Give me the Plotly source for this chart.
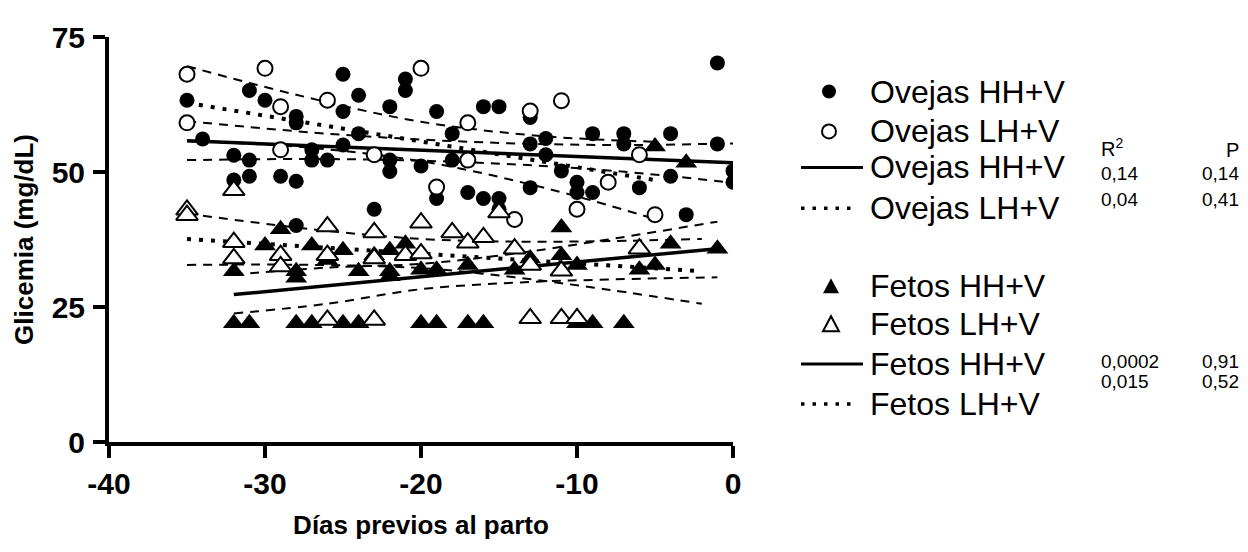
import plotly.graph_objects as go

# ---------------- data ----------------
ov_hh_x = [-35, -34, -32, -32, -31, -31, -31, -30, -29, -28, -28, -28, -28, -27, -27, -26,
           -25, -25, -25, -24, -24, -23, -22, -22, -22, -21, -21, -20, -19, -19, -18, -18,
           -17, -16, -16, -15, -15, -15, -13, -13, -13, -12, -12, -11, -10, -10, -9, -9,
           -7, -7, -6, -4, -4, -3, -1, -1, 0, 0]
ov_hh_y = [63.3, 56.1, 53.1, 48.5, 65.1, 52.2, 49.2, 63.3, 49.2, 60.3, 59.1, 48.3, 40.1, 54.1, 52.2, 52.2,
           68.1, 61.2, 55.0, 64.2, 57.1, 43.1, 62.1, 52.2, 50.1, 67.2, 65.1, 51.1, 61.2, 45.1, 57.1, 52.2,
           46.2, 62.1, 45.1, 62.1, 45.1, 43.1, 60.1, 55.2, 47.1, 56.2, 53.2, 50.2, 48.1, 46.2, 57.1, 46.2,
           57.1, 55.2, 47.1, 57.1, 49.2, 42.1, 70.2, 55.2, 50.2, 48.1]

ov_lh_x = [-35, -35, -30, -29, -29, -26, -23, -20, -19, -17, -17, -14, -13, -11, -10, -8, -6, -5]
ov_lh_y = [68.1, 59.1, 69.2, 62.1, 54.1, 63.3, 53.2, 69.2, 47.2, 59.1, 52.2, 41.2, 61.3, 63.2, 43.1, 48.1, 53.2, 42.1]

fe_hh_x = [-32, -32, -31, -30, -29, -28, -28, -28, -27, -27, -26, -25, -25, -24, -24, -23, -22, -22,
           -22, -21, -20, -20, -19, -19, -17, -17, -16, -14, -13, -11, -11, -10, -10, -9, -7, -6,
           -5, -5, -4, -3, -1]
fe_hh_y = [31.6, 22.0, 22.0, 36.4, 39.4, 31.6, 30.4, 22.0, 36.4, 22.0, 33.7, 35.5, 22.0, 31.6, 22.0, 34.6, 35.5, 31.6,
           30.7, 36.7, 31.9, 22.0, 31.9, 22.0, 32.8, 22.0, 22.0, 31.9, 34.0, 39.7, 34.6, 32.8, 22.0, 22.0, 22.0, 31.9,
           54.7, 32.8, 36.7, 51.7, 35.8]

fe_lh_x = [-35, -35, -32, -32, -32, -29, -29, -26, -26, -26, -23, -23, -23, -21, -20, -20, -18, -17,
           -16, -15, -14, -13, -13, -11, -11, -10, -6]
fe_lh_y = [43.0, 42.0, 46.6, 37.0, 34.0, 34.6, 32.5, 39.9, 34.6, 22.6, 38.8, 34.0, 22.6, 34.6, 40.6, 34.9, 38.8, 36.9,
           37.9, 42.5, 35.8, 32.8, 22.9, 31.7, 22.9, 22.9, 35.8]

# regression lines and 95% bands
ov_hh_fx = [-35, -26, -17, -8, 0]
ov_hh_fit = [55.8, 54.75, 53.7, 52.65, 51.7]
ov_hh_up = [59.4, 57.1, 55.6, 55.0, 55.3]
ov_hh_lo = [52.2, 52.4, 51.8, 50.3, 48.0]

ov_lh_fx = [-35, -28, -20, -12, -5]
ov_lh_fit = [62.8, 59.5, 55.65, 51.85, 48.5]
ov_lh_up = [69.6, 64.3, 59.3, 56.6, 55.6]
ov_lh_lo = [55.7, 54.7, 52.0, 47.0, 41.3]

fe_hh_fx = [-32, -26, -20, -14, -8, -1]
fe_hh_fit = [27.3, 28.95, 30.6, 32.2, 33.9, 35.8]
fe_hh_up = [31.0, 32.3, 33.0, 34.9, 37.5, 40.8]
fe_hh_lo = [23.8, 25.6, 28.3, 29.5, 30.1, 30.5]

fe_lh_fx = [-35, -27, -20, -14, -8, -2]
fe_lh_fit = [37.6, 36.15, 34.9, 33.8, 32.7, 31.6]
fe_lh_up = [42.3, 39.4, 37.6, 37.1, 37.2, 37.6]
fe_lh_lo = [32.8, 32.8, 32.2, 30.5, 28.2, 25.6]

x_ticks = [-40, -30, -20, -10, 0]
x_ticklabels = ["-40", "-30", "-20", "-10", "0"]
y_ticks = [0, 25, 50, 75]
y_ticklabels = ["0", "25", "50", "75"]

stats_r2 = ["0,14", "0,04", "0,0002", "0,015"]
stats_p = ["0,14", "0,41", "0,91", "0,52"]

# ---------------- figure ----------------
FONT = "Liberation Sans, Arial, sans-serif"
OFF = 8                      # page margin of the browser body
W, H = 1248 - OFF, 552 - OFF
L, R, T, B = 109 - OFF, 733 - OFF, 26 - OFF, 442 - OFF   # plot area in figure pixels

fig = go.Figure()

band_line = dict(color="black", width=2, dash="9px,7px")
for fx, up, lo in [(ov_hh_fx, ov_hh_up, ov_hh_lo), (ov_lh_fx, ov_lh_up, ov_lh_lo),
                   (fe_hh_fx, fe_hh_up, fe_hh_lo), (fe_lh_fx, fe_lh_up, fe_lh_lo)]:
    for yy in (up, lo):
        fig.add_trace(go.Scatter(x=fx, y=yy, mode="lines", line=dict(band_line, shape="spline"),
                                 showlegend=False, hoverinfo="skip"))

fig.add_trace(go.Scatter(x=ov_hh_fx, y=ov_hh_fit, mode="lines", line=dict(color="black", width=3.5),
                         showlegend=False))
fig.add_trace(go.Scatter(x=ov_lh_fx, y=ov_lh_fit, mode="lines",
                         line=dict(color="black", width=4, dash="4px,8px"), showlegend=False))
fig.add_trace(go.Scatter(x=fe_hh_fx, y=fe_hh_fit, mode="lines", line=dict(color="black", width=3.5),
                         showlegend=False))
fig.add_trace(go.Scatter(x=fe_lh_fx, y=fe_lh_fit, mode="lines",
                         line=dict(color="black", width=4, dash="4px,8px"), showlegend=False))

fig.add_trace(go.Scatter(x=ov_hh_x, y=ov_hh_y, mode="markers", showlegend=False,
                         marker=dict(symbol="circle", size=15, color="black", line=dict(width=0))))
fig.add_trace(go.Scatter(x=ov_lh_x, y=ov_lh_y, mode="markers", showlegend=False,
                         marker=dict(symbol="circle", size=15, color="white", line=dict(width=2, color="black"))))
fig.add_trace(go.Scatter(x=fe_hh_x, y=fe_hh_y, mode="markers", showlegend=False,
                         marker=dict(symbol="triangle-up", size=19, color="black", line=dict(width=0))))
fig.add_trace(go.Scatter(x=fe_lh_x, y=fe_lh_y, mode="markers", showlegend=False,
                         marker=dict(symbol="triangle-up", size=19, color="white", line=dict(width=2, color="black"))))

# ---------------- custom legend (positions given in reference-picture pixels) ----------------
def px(xp):
    return (xp - OFF - L) / (R - L)
def py(yp):
    return (B - (yp - OFF)) / (B - T)

shapes = []
annots = []
legend_rows = [
    ("circle_f", "Ovejas HH+V", 82),
    ("circle_o", "Ovejas LH+V", 123),
    ("solid", "Ovejas HH+V", 160),
    ("dot", "Ovejas LH+V", 202),
    ("tri_f", "Fetos HH+V", 282),
    ("tri_o", "Fetos LH+V", 321),
    ("solid", "Fetos HH+V", 362),
    ("dot", "Fetos LH+V", 403),
]
for kind, label, yc in legend_rows:
    if kind in ("circle_f", "circle_o"):
        shapes.append(dict(type="circle", xref="paper", yref="paper", xsizemode="pixel", ysizemode="pixel",
                           xanchor=px(829), yanchor=py(yc), x0=-7, x1=7, y0=-7, y1=7,
                           fillcolor="black" if kind == "circle_f" else "white",
                           line=dict(color="black", width=2 if kind == "circle_o" else 0)))
    elif kind in ("tri_f", "tri_o"):
        shapes.append(dict(type="path", xref="paper", yref="paper", xsizemode="pixel", ysizemode="pixel",
                           xanchor=px(831), yanchor=py(yc),
                           path="M -8,-7 L 8,-7 L 0,8 Z",
                           fillcolor="black" if kind == "tri_f" else "white",
                           line=dict(color="black", width=2 if kind == "tri_o" else 0)))
    elif kind == "solid":
        shapes.append(dict(type="line", xref="paper", yref="paper", x0=px(801), x1=px(863),
                           y0=py(yc), y1=py(yc), line=dict(color="black", width=3)))
    else:
        shapes.append(dict(type="line", xref="paper", yref="paper", x0=px(801), x1=px(858),
                           y0=py(yc), y1=py(yc), line=dict(color="black", width=3.5, dash="3.5px,8px")))
    annots.append(dict(text=label, xref="paper", yref="paper", x=px(868), y=py(yc),
                       xanchor="left", yanchor="middle", showarrow=False,
                       font=dict(family=FONT, size=32, color="black")))

annots.append(dict(text="R<sup>2</sup>", xref="paper", yref="paper", x=px(1099), y=py(139),
                   xanchor="left", yanchor="middle", showarrow=False,
                   font=dict(family=FONT, size=20, color="black")))
annots.append(dict(text="P", xref="paper", yref="paper", x=px(1241), y=py(142),
                   xanchor="right", yanchor="middle", showarrow=False,
                   font=dict(family=FONT, size=20, color="black")))
for txt_r, txt_p, yc in zip(stats_r2, stats_p, [166, 193, 359, 380]):
    annots.append(dict(text=txt_r, xref="paper", yref="paper", x=px(1099), y=py(yc),
                       xanchor="left", yanchor="middle", showarrow=False,
                       font=dict(family=FONT, size=19, color="black")))
    annots.append(dict(text=txt_p, xref="paper", yref="paper", x=px(1241), y=py(yc),
                       xanchor="right", yanchor="middle", showarrow=False,
                       font=dict(family=FONT, size=19, color="black")))

axis_common = dict(showline=True, linewidth=4, linecolor="black", ticks="outside", ticklen=12,
                   tickwidth=4, tickcolor="black", showgrid=False, zeroline=False,
                   tickfont=dict(family=FONT, size=30, color="black", weight="bold"))

fig.update_layout(
    width=W, height=H,
    margin=dict(l=L, r=W - R, t=T, b=H - B),
    paper_bgcolor="white", plot_bgcolor="white",
    showlegend=False,
    xaxis=dict(axis_common, range=[-40, 0], tickvals=x_ticks, ticktext=x_ticklabels,
               title=dict(text="Días previos al parto", standoff=18,
                          font=dict(family=FONT, size=26, color="black", weight="bold"))),
    yaxis=dict(axis_common, range=[0, 75], tickvals=y_ticks, ticktext=y_ticklabels,
               ticklabelstandoff=2,
               title=dict(text="Glicemia (mg/dL)", standoff=12,
                          font=dict(family=FONT, size=26, color="black", weight="bold"))),
    shapes=shapes, annotations=annots,
)

fig.write_html("out.html")
